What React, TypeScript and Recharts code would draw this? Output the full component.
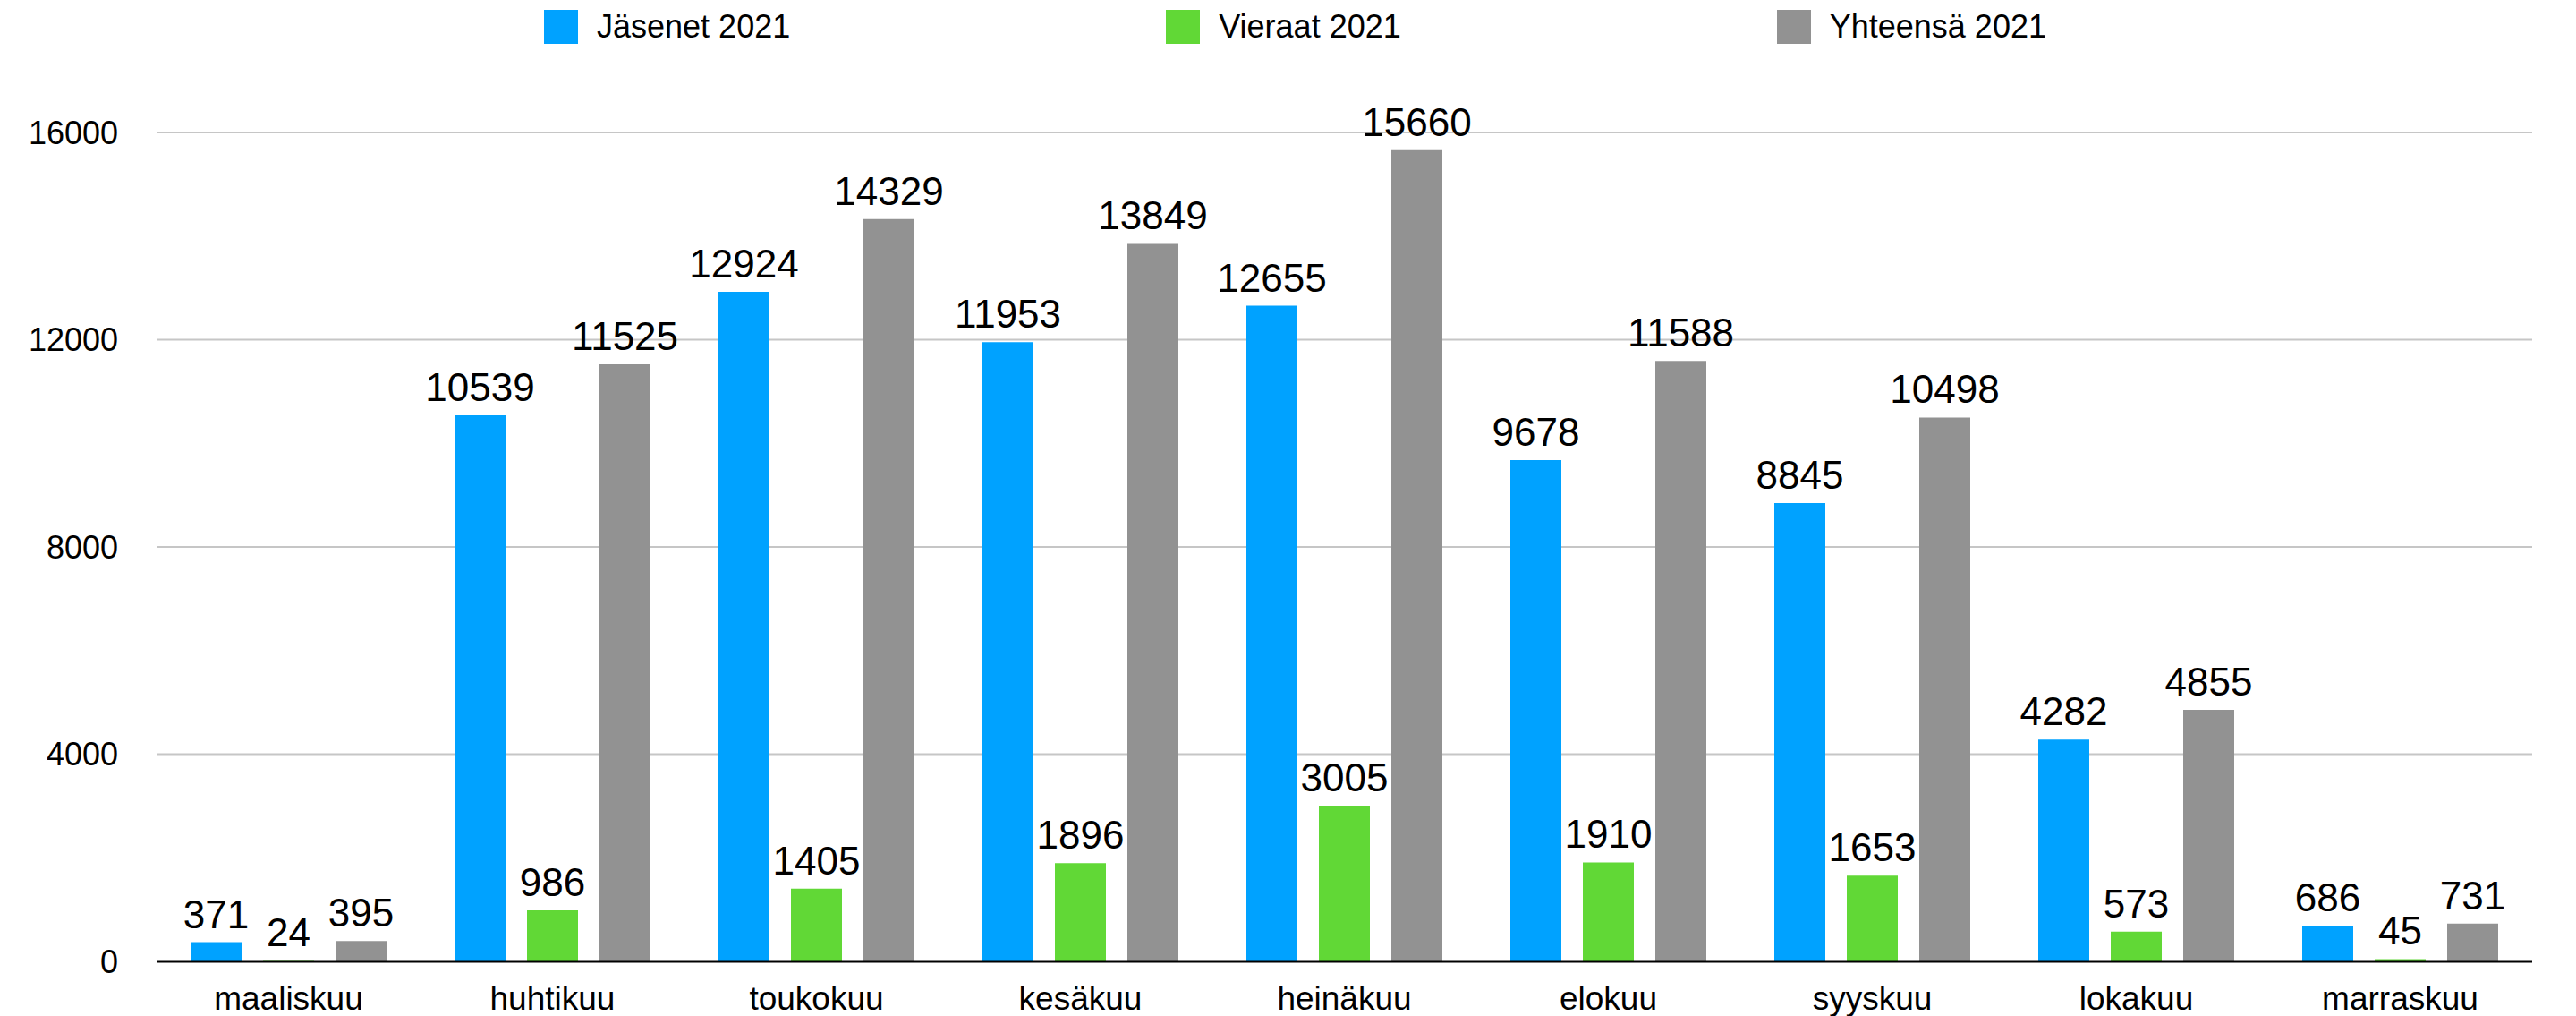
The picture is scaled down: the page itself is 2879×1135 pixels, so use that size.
import { BarChart, Bar, XAxis, YAxis, CartesianGrid, Legend, LabelList } from 'recharts'

const months = ['maaliskuu', 'huhtikuu', 'toukokuu', 'kesäkuu', 'heinäkuu', 'elokuu', 'syyskuu', 'lokakuu', 'marraskuu']
const members = [371, 10539, 12924, 11953, 12655, 9678, 8845, 4282, 686]
const guests = [24, 986, 1405, 1896, 3005, 1910, 1653, 573, 45]
const totals = [395, 11525, 14329, 13849, 15660, 11588, 10498, 4855, 731]
const yTicks = [0, 4000, 8000, 12000, 16000]

const SERIES = [
  { key: 'members', name: 'Jäsenet 2021', color: '#00a2ff' },
  { key: 'guests', name: 'Vieraat 2021', color: '#61d836' },
  { key: 'totals', name: 'Yhteensä 2021', color: '#929292' },
]

const data = months.map((m, i) => ({ month: m, members: members[i], guests: guests[i], totals: totals[i] }))

function TopLegend() {
  return (
    <div style={{ display: 'flex', justifyContent: 'center', gap: 420, paddingLeft: 16, height: 38, alignItems: 'center' }}>
      {SERIES.map(s => (
        <div key={s.key} style={{ display: 'flex', alignItems: 'center' }}>
          <span style={{ width: 38, height: 38, background: s.color, display: 'inline-block', marginRight: 21 }} />
          <span style={{ fontSize: 36, color: '#000', lineHeight: '38px' }}>{s.name}</span>
        </div>
      ))}
    </div>
  )
}

export default function App() {
  return (
    <div style={{ position: 'absolute', left: 0, top: 0, fontFamily: '"Liberation Sans", Arial, Helvetica, sans-serif', background: '#fff' }}>
      <BarChart width={2879} height={1135} data={data} margin={{ top: 148, right: 49, bottom: 0, left: 0 }} barSize={57} barGap={24}>
        <CartesianGrid horizontal vertical={false} stroke="#c6c6c6" strokeWidth={2} />
        <XAxis
          dataKey="month"
          interval={0}
          height={61}
          tickLine={false}
          tickSize={0}
          tickMargin={28}
          axisLine={{ stroke: '#000', strokeWidth: 3 }}
          tick={{ fill: '#000', fontSize: 37 }}
        />
        <YAxis
          width={175}
          domain={[0, 16000]}
          ticks={yTicks}
          axisLine={false}
          tickLine={false}
          tickSize={0}
          tickMargin={43}
          tick={{ fill: '#000', fontSize: 36 }}
        />
        <Legend
          verticalAlign="middle"
          align="center"
          layout="horizontal"
          content={<TopLegend />}
          wrapperStyle={{ top: 11, left: 0, width: 2879, height: 38 }}
        />
        {SERIES.map(s => (
          <Bar key={s.key} dataKey={s.key} name={s.name} fill={s.color} isAnimationActive={false}>
            <LabelList dataKey={s.key} position="top" offset={16} fill="#000" fontSize={44} />
          </Bar>
        ))}
      </BarChart>
    </div>
  )
}
